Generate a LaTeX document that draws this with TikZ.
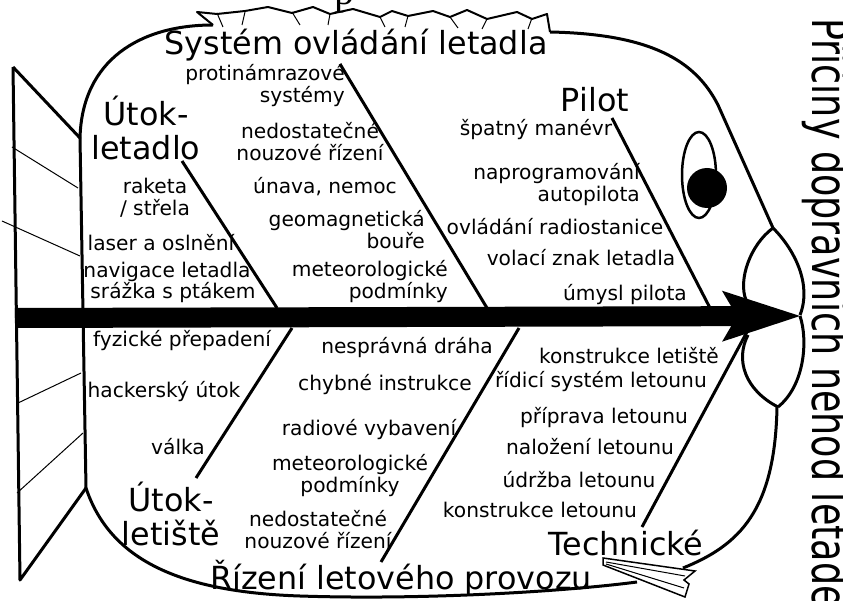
\documentclass[tikz,border=0pt]{standalone}
\usepackage{fontspec}
\setmainfont{DejaVu Sans}
\newfontfamily\headserif{Liberation Serif}
\usetikzlibrary{arrows.meta}

\begin{document}
\begin{tikzpicture}[x=1pt, y=-1pt,
  cause/.style={font=\fontsize{20.2}{22}\selectfont, inner sep=0pt},
  group/.style={font=\fontsize{31.8}{34}\selectfont, inner sep=0pt},
  bone/.style={line width=3pt},
  outline/.style={line width=3pt, line join=round},
  fine/.style={line width=1pt},
  spine/.style={line width=20pt,
    -{Stealth[length=78pt, width=51pt, inset=15pt, line width=0pt]}}]
\useasboundingbox (0,0) rectangle (843,601);
\clip (0,0) rectangle (843,601);

%%tail
\draw[outline] (13,67) -- (80,138);
\draw[outline] (13,67) -- (20,580) -- (86,488);
\draw[fine] (12,147) -- (78,188);
\draw[fine] (2,221) -- (80,256);
\draw[fine] (18,403) -- (81,373);
\draw[fine] (17,493) -- (83,433);

%%body
\draw[outline] (80,138) .. controls (82,60) and (140,25) .. (213,25);
\draw[outline] (80,138) -- (86,488);
\draw[outline] (86,488) .. controls (110,560) and (180,592) .. (300,596)
  .. controls (420,600) and (560,592) .. (637,582);
\draw[outline] (683,568) .. controls (740,545) and (775,510) .. (777,407);
%dorsal fin
\draw[line width=2pt, line join=round] (213,25) -- (197,12) -- (217,14)
  -- (245,11) -- (268,7) -- (292,13) -- (313,7) -- (330,14) -- (353,9)
  -- (380,17) -- (392,11) -- (408,16) -- (433,11) -- (450,17) -- (467,10)
  -- (487,19) -- (517,12) -- (532,19) -- (547,14) -- (550,32);
\draw[fine] (217,13) -- (223,27) (245,12) -- (242,25) (292,12) -- (300,25)
  (330,14) -- (328,25) (380,17) -- (385,27) (408,16) -- (405,27)
  (450,17) -- (458,28) (487,19) -- (482,29) (532,18) -- (528,29);
\draw[outline] (550,32) .. controls (650,34) and (695,60) .. (718,105)
  -- (773,228);
%eye
\draw[line width=2.5pt] (699,175) ellipse (17 and 43);
\fill (707,188) circle (20);
%mouth
\draw[outline] (773,228) .. controls (750,245) and (738,280) .. (746,300);
\draw[outline] (773,228) .. controls (795,250) and (812,285) .. (800,315);
\draw[outline] (748,335) .. controls (735,360) and (745,390) .. (778,407);
\draw[outline] (800,316) .. controls (808,340) and (805,385) .. (778,407);
%pelvic fin
\draw[line width=1.5pt, fill=white] (603,558) -- (695,571) -- (684,580)
  -- (689,584) -- (685,597) -- (603,565) -- cycle;
\draw[fine] (606,562) -- (685,576);
\draw[fine] (606,564) -- (684,588);

%%spine
\coordinate (tail) at (15,318);
\coordinate (mouth) at (800,316);
\draw[spine] (tail) -- (mouth);

%%bones
\coordinate (b1s) at (182,161);  \coordinate (b1e) at (277,308);
\coordinate (b2s) at (340,64);   \coordinate (b2e) at (487,308);
\coordinate (b3s) at (612,118);  \coordinate (b3e) at (710,308);
\coordinate (b4s) at (292,328);  \coordinate (b4e) at (196,478);
\coordinate (b5s) at (519,328);  \coordinate (b5e) at (381,562);
\coordinate (b6s) at (748,330);  \coordinate (b6e) at (642,527);
\draw[bone] (b1s) -- (b1e);
\draw[bone] (b2s) -- (b2e);
\draw[bone] (b3s) -- (b3e);
\draw[bone] (b4s) -- (b4e);
\draw[bone] (b5s) -- (b5e);
\draw[bone] (b6s) -- (b6e);

%%system
\node[group] (sys) at (356,45) {Systém ovládání letadla};
\node[cause, align=right, anchor=east] (sys1) at (345,86) {protinámrazové\\systémy};
\node[cause, align=center] (sys2) at (310,142) {nedostatečné\\nouzové řízení};
\node[cause] (sys3) at (325,187) {únava, nemoc};
\node[cause, align=right, anchor=east] (sys4) at (425,230) {geomagnetická\\bouře};
\node[cause, align=right, anchor=east] (sys5) at (448,282) {meteorologické\\podmínky};

%%attack on aircraft
\node[group, align=center] (atk) at (146,128) {Útok-\\letadlo};
\node[cause, align=center] (atk1) at (155,198) {raketa\\/ střela};
\node[cause] (atk2) at (161,243) {laser a oslnění};
\node[cause] (atk3) at (167,272) {navigace letadla};
\node[cause] (atk4) at (173,293) {srážka s ptákem};

%%pilot
\node[group] (pil) at (595,100) {Pilot};
\node[cause] (pil1) at (536,130) {špatný manévr};
\node[cause, align=right, anchor=east] (pil2) at (640,185) {naprogramování\\autopilota};
\node[cause] (pil3) at (555,227) {ovládání radiostanice};
\node[cause] (pil4) at (581,258) {volací znak letadla};
\node[cause] (pil5) at (625,295) {úmysl pilota};

%%attack on airport
\node[cause] (apt1) at (182,341) {fyzické přepadení};
\node[cause] (apt2) at (164,392) {hackerský útok};
\node[cause] (apt3) at (178,447) {válka};
\node[group, align=center] (apt) at (171,514) {Útok-\\letiště};

%%air traffic control
\node[cause] (atc1) at (407,348) {nesprávná dráha};
\node[cause] (atc2) at (385,385) {chybné instrukce};
\node[cause] (atc3) at (369,430) {radiové vybavení};
\node[cause, align=center] (atc4) at (350,476) {meteorologické\\podmínky};
\node[cause, align=center] (atc5) at (318,530) {nedostatečné\\nouzové řízení};
\node[group] (atc) at (401,578) {Řízení letového provozu};

%%technical
\node[cause] (tec1) at (629,356) {konstrukce letiště};
\node[cause] (tec2) at (601,382) {řídicí systém letounu};
\node[cause] (tec3) at (604,418) {příprava letounu};
\node[cause] (tec4) at (590,447) {naložení letounu};
\node[cause] (tec5) at (579,480) {údržba letounu};
\node[cause] (tec6) at (540,510) {konstrukce letounu};
\node[group] (tec) at (626,543) {Technické};

%%title, cut by the right edge
\node[font=\fontsize{36.5}{36.5}\selectfont, rotate=-90, anchor=base west,
  inner sep=0pt] (title) at (812,18)
  {\scalebox{1}[1.36]{Příčiny dopravních nehod letadel}};
\node[font=\headserif\fontsize{40}{40}\selectfont, anchor=base, inner sep=0pt]
  (cut) at (344,5) {p};
\end{tikzpicture}
\end{document}
